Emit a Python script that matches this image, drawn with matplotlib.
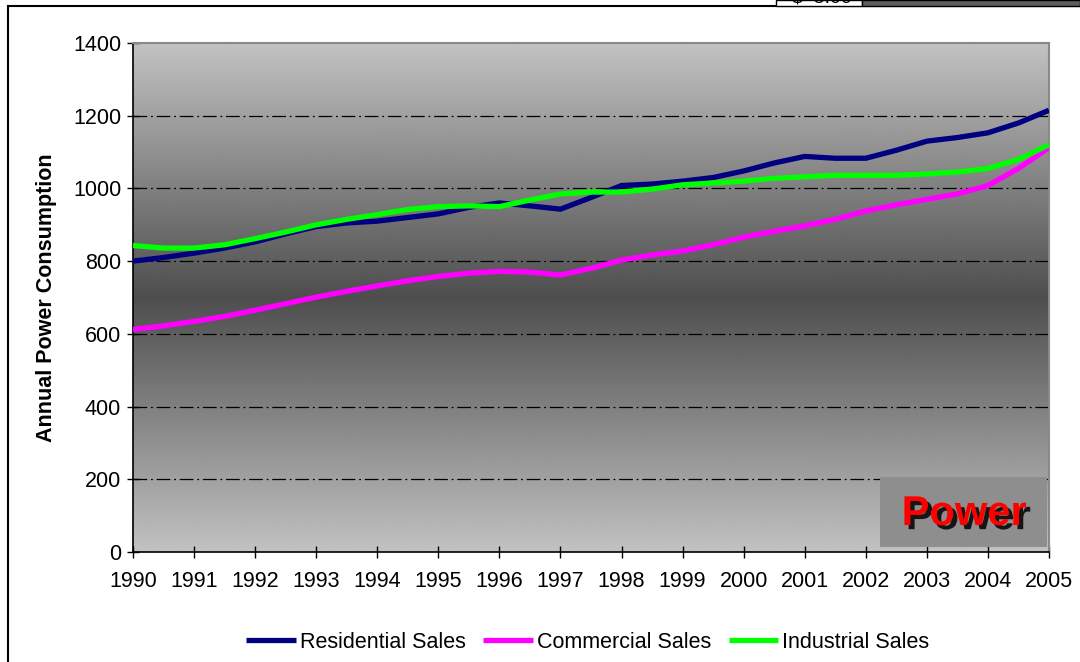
import numpy as np
import matplotlib
matplotlib.use("Agg")
import matplotlib.pyplot as plt
import matplotlib.patheffects as pe
from matplotlib.patches import Rectangle

plt.rcParams['font.family'] = ['Liberation Sans', 'DejaVu Sans']

# Half-year sampling points
years = [1990 + 0.5 * i for i in range(31)]

residential = [800, 810, 822, 836, 853, 875, 895, 905, 910, 920,
               930, 948, 960, 952, 943, 975, 1008, 1012, 1020, 1030,
               1048, 1070, 1088, 1083, 1083, 1105, 1130, 1140, 1153, 1180,
               1215]
commercial = [612, 622, 634, 648, 665, 683, 701, 717, 732, 746,
              758, 767, 772, 770, 762, 780, 803, 817, 828, 845,
              866, 882, 897, 915, 938, 955, 970, 985, 1008, 1055,
              1112]
industrial = [843, 836, 836, 845, 862, 880, 900, 915, 928, 942,
              950, 952, 950, 968, 985, 990, 990, 998, 1010, 1015,
              1020, 1028, 1032, 1036, 1036, 1036, 1040, 1045, 1055, 1080,
              1120]

series_names = ['Residential Sales', 'Commercial Sales', 'Industrial Sales']
series_colors = ['#000080', '#ff00ff', '#00ff00']
year_ticks = list(range(1990, 2006))
value_ticks = list(range(0, 1401, 200))

FS = 15.5

W, H = 1080, 662
fig = plt.figure(figsize=(W / 100, H / 100), dpi=100)
fig.patch.set_facecolor('white')

ax = fig.add_axes([133 / W, 1 - 552 / H, (1049 - 133) / W, (552 - 43) / H])

# Vertical two-tone gradient: light at the edges, dark in the middle
n = 512
pos = np.linspace(0, 1, n)
shade = 194 - (194 - 78) * (1 - np.abs(pos - 0.5) * 2)
grad = np.repeat(shade[:, None], 2, axis=1) / 255.0
ax.imshow(grad, cmap='gray', vmin=0, vmax=1, aspect='auto',
          extent=[1990, 2005, 0, 1400], origin='lower', zorder=0,
          interpolation='bilinear')

ax.set_xlim(1990, 2005)
ax.set_ylim(0, 1400)

for v in value_ticks[1:-1]:
    ax.axhline(v, color='black', lw=0.9, linestyle=(0, (11, 3, 1.5, 3)), zorder=1)

data = [residential, commercial, industrial]
handles = []
for vals, name, col in zip(data, series_names, series_colors):
    h, = ax.plot(years, vals, color=col, lw=3.8, label=name, zorder=3,
                 solid_joinstyle='miter', solid_capstyle='butt')
    handles.append(h)

ax.set_xticks(year_ticks)
ax.set_yticks(value_ticks)
ax.tick_params(axis='both', direction='inout', length=9, width=1, colors='black',
               labelsize=FS)
ax.tick_params(axis='x', pad=9)
ax.tick_params(axis='y', pad=4)

for side in ['left', 'bottom']:
    ax.spines[side].set_color('black')
    ax.spines[side].set_linewidth(1.2)
for side in ['top', 'right']:
    ax.spines[side].set_color('#8a8a8a')
    ax.spines[side].set_linewidth(1.5)

ax.set_ylabel('Annual Power Consumption', fontsize=FS, fontweight='bold')
ax.yaxis.set_label_coords(-0.083, 0.5)

# "Power" tag in the lower-right corner
tag = Rectangle((880 / W, 1 - 547 / H), (1047 - 880) / W, (547 - 477) / H,
                transform=fig.transFigure, facecolor='#8e8e8e',
                edgecolor='none', zorder=5)
fig.add_artist(tag)
fig.text(964 / W, 1 - 514 / H, 'Power', color='#ff0000', fontsize=30,
         fontweight='bold', ha='center', va='center', zorder=6,
         path_effects=[pe.SimplePatchShadow(offset=(3, -3),
                                            shadow_rgbFace='black', alpha=0.85),
                       pe.Normal()])

fig.legend(handles=handles, labels=series_names, loc='center',
           bbox_to_anchor=(588 / W, 1 - 642 / H), ncol=3, frameon=False,
           fontsize=FS, handlelength=2.3, handletextpad=0.2,
           columnspacing=0.8)

# Chart frame edges and neighbouring objects along the top strip
fig.add_artist(plt.Line2D([8 / W, 8 / W], [0, 1 - 6 / H],
                          transform=fig.transFigure, color='black', lw=1.5))
fig.add_artist(plt.Line2D([8 / W, 1], [1 - 6 / H, 1 - 6 / H],
                          transform=fig.transFigure, color='black', lw=1.5))
box = Rectangle((776 / W, 1 - 6 / H), (862 - 776) / W, 6 / H,
                transform=fig.transFigure, facecolor='white',
                edgecolor='black', lw=1.0, zorder=7)
fig.add_artist(box)
price = fig.text(792 / W, 1 + 2 / H, '$  5.00', fontsize=14, ha='left',
                 va='center', zorder=8)
price.set_clip_path(box)
dark = Rectangle((862 / W, 1 - 6 / H), (W - 862) / W, 6 / H,
                 transform=fig.transFigure, facecolor='#5e5e5e',
                 edgecolor='black', lw=1.0, zorder=7)
fig.add_artist(dark)

fig.savefig('out.png', dpi=100)
